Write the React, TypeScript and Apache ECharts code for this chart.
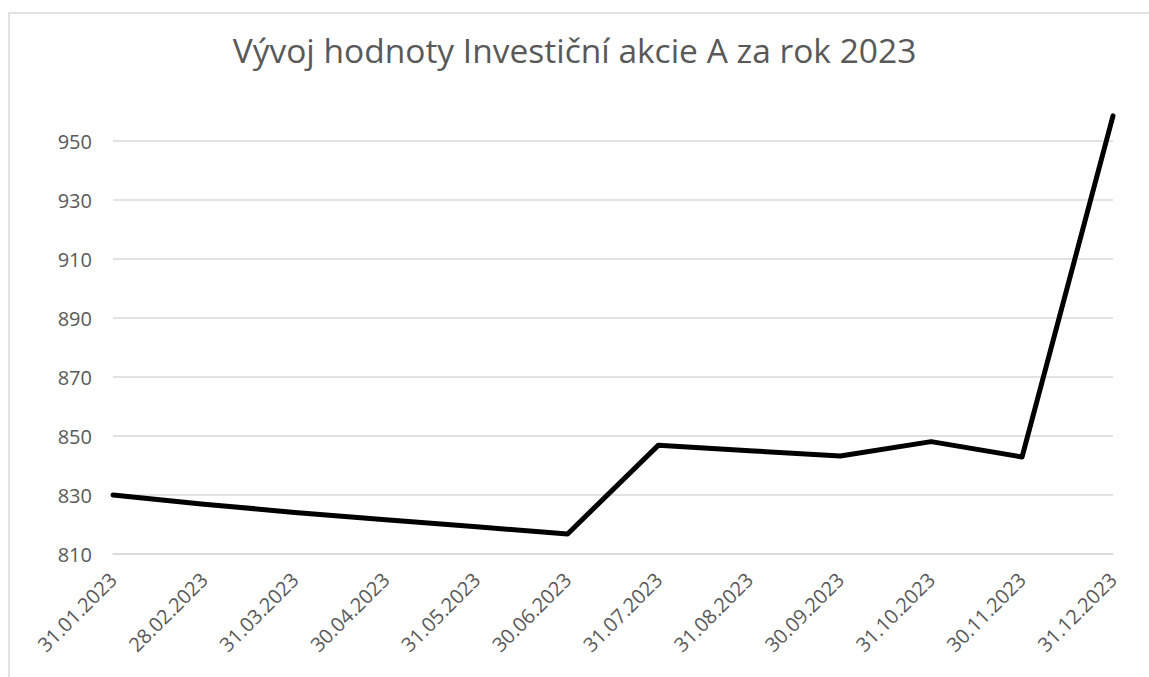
import React, { useEffect, useRef } from "react";
import * as echarts from "echarts";

const titleText = "Vývoj hodnoty Investiční akcie A za rok 2023";
const categories = [
  "31.01.2023",
  "28.02.2023",
  "31.03.2023",
  "30.04.2023",
  "31.05.2023",
  "30.06.2023",
  "31.07.2023",
  "31.08.2023",
  "30.09.2023",
  "31.10.2023",
  "30.11.2023",
  "31.12.2023",
];
const values = [830, 826.9, 824.1, 821.6, 819.2, 816.8, 846.9, 845.0, 843.2, 848.1, 842.9, 958.5];
const yTickLabels = [810, 830, 850, 870, 890, 910, 930, 950];
const yMin = 810;
const yMax = 960;

const FONT = "'Open Sans', sans-serif";
const TEXT_COLOR = "#595959";
const GRID_COLOR = "#d9d9d9";

export default function App() {
  const ref = useRef<HTMLDivElement>(null);

  useEffect(() => {
    if (!ref.current) return;
    const chart = echarts.init(ref.current, null, { renderer: "svg" });
    chart.setOption({
      animation: false,
      backgroundColor: "#ffffff",
      textStyle: { fontFamily: FONT },
      title: {
        text: titleText,
        left: "center",
        top: 28,
        textStyle: {
          fontFamily: FONT,
          fontSize: 33.5,
          fontWeight: "normal",
          color: TEXT_COLOR,
        },
      },
      graphic: [
        {
          type: "rect",
          shape: { x: 9, y: 13, width: 1200, height: 700 },
          style: { fill: "none", stroke: GRID_COLOR, lineWidth: 1.5 },
          silent: true,
        },
      ],
      grid: { left: 113, right: 36, top: 111.5, bottom: 123 },
      xAxis: {
        type: "category",
        data: categories,
        boundaryGap: false,
        axisLine: { show: true, lineStyle: { color: GRID_COLOR, width: 1.5 } },
        axisTick: { show: false },
        axisLabel: {
          rotate: 45,
          interval: 0,
          margin: 22,
          fontSize: 20,
          color: TEXT_COLOR,
          fontFamily: FONT,
        },
        splitLine: { show: false },
      },
      yAxis: {
        type: "value",
        min: yMin,
        max: yMax,
        interval: 10,
        axisLine: { show: false },
        axisTick: { show: false },
        axisLabel: {
          margin: 21,
          fontSize: 20,
          color: TEXT_COLOR,
          fontFamily: FONT,
          formatter: (v: number) => (yTickLabels.includes(v) ? String(v) : ""),
        },
        splitLine: {
          show: true,
          lineStyle: { color: [GRID_COLOR, "transparent"], width: 1.5 },
        },
      },
      series: [
        {
          type: "line",
          data: values,
          showSymbol: false,
          symbol: "none",
          lineStyle: { color: "#000000", width: 5, cap: "round", join: "round" },
          itemStyle: { color: "#000000" },
        },
      ],
    });
    return () => chart.dispose();
  }, []);

  return (
    <div style={{ position: "fixed", left: 0, top: 0, width: 1149, height: 677, background: "#fff" }}>
      <div ref={ref} style={{ width: 1149, height: 677 }} />
    </div>
  );
}
